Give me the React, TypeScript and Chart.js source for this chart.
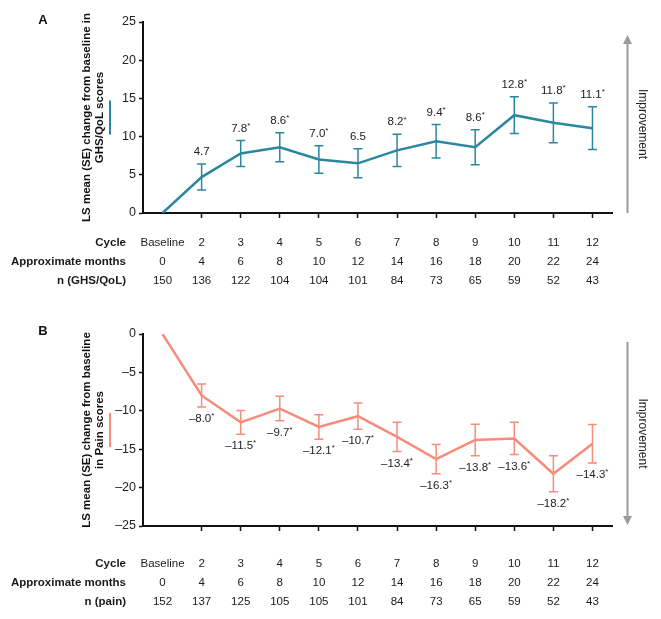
import React, { useEffect, useRef } from "react";
import { Chart, registerables } from "chart.js";
Chart.register(...registerables);

const cycles = ["Baseline", "2", "3", "4", "5", "6", "7", "8", "9", "10", "11", "12"];
const months = ["0", "4", "6", "8", "10", "12", "14", "16", "18", "20", "22", "24"];
const nGhs = [150, 136, 122, 104, 104, 101, 84, 73, 65, 59, 52, 43];
const nPain = [152, 137, 125, 105, 105, 101, 84, 73, 65, 59, 52, 43];

const ghsMean = [0, 4.7, 7.8, 8.6, 7.0, 6.5, 8.2, 9.4, 8.6, 12.8, 11.8, 11.1];
const ghsSE = [0, 1.7, 1.7, 1.9, 1.8, 1.9, 2.1, 2.2, 2.3, 2.4, 2.6, 2.8];
const ghsSig = [false, false, true, true, true, false, true, true, true, true, true, true];

const painMean = [0, -8.0, -11.5, -9.7, -12.1, -10.7, -13.4, -16.3, -13.8, -13.6, -18.2, -14.3];
const painSE = [0, 1.5, 1.55, 1.6, 1.6, 1.7, 1.9, 1.9, 2.05, 2.1, 2.35, 2.5];
const painSig = [false, true, true, true, true, true, true, true, true, true, true, true];

const FONT = "'Liberation Sans', Arial, Helvetica, sans-serif";
const TEAL = "#2b87a0";
const SALMON = "#f68c7b";

type PanelCfg = {
  letter: string;
  mean: number[];
  se: number[];
  sig: boolean[];
  color: string;
  yMin: number;
  yMax: number;
  title: string[];
  nLabel: string;
  n: number[];
  canvasH: number;
  areaTop: number;
  areaBottom: number;
  labelAbove: boolean;
  arrowUp: boolean;
  arrowFrom: number;
  arrowTo: number;
  tableY: number[];
  letterY: number;
};

function fmt(v: number) {
  return v.toFixed(1).replace("-", "\u2013");
}

function makePlugin(cfg: PanelCfg) {
  return {
    id: "panelDeco" + cfg.letter,
    afterDatasetsDraw(chart: any) {
      const ctx = chart.ctx;
      const xs = chart.scales.x;
      const ys = chart.scales.y;
      ctx.save();
      ctx.strokeStyle = cfg.color;
      ctx.lineWidth = 1.5;
      cfg.mean.forEach((m, i) => {
        const se = cfg.se[i];
        if (se <= 0) return;
        const px = xs.getPixelForValue(i);
        const t = ys.getPixelForValue(m + se);
        const b = ys.getPixelForValue(m - se);
        ctx.beginPath();
        ctx.moveTo(px, t);
        ctx.lineTo(px, b);
        ctx.moveTo(px - 4.5, t);
        ctx.lineTo(px + 4.5, t);
        ctx.moveTo(px - 4.5, b);
        ctx.lineTo(px + 4.5, b);
        ctx.stroke();
      });
      // value labels
      ctx.fillStyle = "#222";
      ctx.textBaseline = "middle";
      ctx.textAlign = "left";
      cfg.mean.forEach((m, i) => {
        if (i === 0) return;
        const px = xs.getPixelForValue(i);
        const se = cfg.se[i];
        const py = cfg.labelAbove
          ? ys.getPixelForValue(m + se) - 12
          : ys.getPixelForValue(m - se) + 12;
        const txt = fmt(m);
        ctx.font = `11.5px ${FONT}`;
        const w1 = ctx.measureText(txt).width;
        ctx.font = `8px ${FONT}`;
        const w2 = cfg.sig[i] ? ctx.measureText("*").width : 0;
        const x0 = px - (w1 + w2) / 2;
        ctx.font = `11.5px ${FONT}`;
        ctx.fillText(txt, x0, py);
        if (cfg.sig[i]) {
          ctx.font = `8px ${FONT}`;
          ctx.fillText("*", x0 + w1, py - 3);
        }
      });
      ctx.restore();
    },
    afterDraw(chart: any) {
      const ctx = chart.ctx;
      const xs = chart.scales.x;
      const area = chart.chartArea;
      ctx.save();
      // panel letter
      ctx.fillStyle = "#111";
      ctx.font = `bold 13px ${FONT}`;
      ctx.textAlign = "center";
      ctx.textBaseline = "middle";
      ctx.fillText(cfg.letter, 43, cfg.letterY);

      // y-axis title
      const cy = (area.top + area.bottom) / 2;
      ctx.save();
      ctx.translate(87, cy);
      ctx.rotate(-Math.PI / 2);
      ctx.font = `bold 11.5px ${FONT}`;
      ctx.fillText(cfg.title[0], 0, 0);
      ctx.restore();
      ctx.save();
      ctx.translate(100, cy);
      ctx.rotate(-Math.PI / 2);
      ctx.font = `bold 11.5px ${FONT}`;
      ctx.fillText(cfg.title[1], 0, 0);
      ctx.restore();
      ctx.strokeStyle = cfg.color;
      ctx.lineWidth = 2;
      ctx.beginPath();
      ctx.moveTo(110, cy - 17);
      ctx.lineTo(110, cy + 17);
      ctx.stroke();

      // improvement arrow
      const ax = 627.5;
      ctx.strokeStyle = "#9a9a9a";
      ctx.fillStyle = "#9a9a9a";
      ctx.lineWidth = 2;
      ctx.beginPath();
      ctx.moveTo(ax, cfg.arrowFrom);
      ctx.lineTo(ax, cfg.arrowUp ? cfg.arrowTo + 8 : cfg.arrowTo - 8);
      ctx.stroke();
      ctx.beginPath();
      if (cfg.arrowUp) {
        ctx.moveTo(ax, cfg.arrowTo);
        ctx.lineTo(ax - 4.5, cfg.arrowTo + 9);
        ctx.lineTo(ax + 4.5, cfg.arrowTo + 9);
      } else {
        ctx.moveTo(ax, cfg.arrowTo);
        ctx.lineTo(ax - 4.5, cfg.arrowTo - 9);
        ctx.lineTo(ax + 4.5, cfg.arrowTo - 9);
      }
      ctx.closePath();
      ctx.fill();
      ctx.save();
      ctx.translate(642, (cfg.arrowFrom + cfg.arrowTo) / 2);
      ctx.rotate(Math.PI / 2);
      ctx.fillStyle = "#222";
      ctx.font = `12px ${FONT}`;
      ctx.textAlign = "center";
      ctx.textBaseline = "middle";
      ctx.fillText("Improvement", 0, 0);
      ctx.restore();

      // table
      const rowLabels = ["Cycle", "Approximate months", cfg.nLabel];
      const rows = [cycles, months, cfg.n.map(String)];
      ctx.fillStyle = "#1a1a1a";
      ctx.textBaseline = "middle";
      rows.forEach((row, r) => {
        const y = cfg.tableY[r];
        ctx.font = `bold 11.5px ${FONT}`;
        ctx.textAlign = "right";
        ctx.fillText(rowLabels[r], 126, y);
        ctx.font = `11.5px ${FONT}`;
        ctx.textAlign = "center";
        row.forEach((v, i) => {
          ctx.fillText(v, xs.getPixelForValue(i), y);
        });
      });
      ctx.restore();
    },
  };
}

function Panel({ cfg }: { cfg: PanelCfg }) {
  const ref = useRef<HTMLCanvasElement>(null);
  useEffect(() => {
    if (!ref.current) return;
    const chart = new Chart(ref.current, {
      type: "line",
      data: {
        labels: cycles,
        datasets: [
          {
            data: cfg.mean,
            borderColor: cfg.color,
            borderWidth: 2.5,
            pointRadius: 0,
            tension: 0,
            fill: false,
          },
        ],
      },
      options: {
        animation: false,
        responsive: false,
        maintainAspectRatio: false,
        layout: {
          padding: {
            left: 103,
            right: 49,
            top: cfg.areaTop,
            bottom: cfg.canvasH - cfg.areaBottom - 10,
          },
        },
        plugins: { legend: { display: false }, tooltip: { enabled: false } },
        scales: {
          x: {
            type: "category",
            offset: true,
            grid: {
              drawOnChartArea: false,
              offset: false,
              tickLength: 5,
              tickWidth: 1.5,
              tickColor: (c: any) => (c.index === 0 ? "rgba(0,0,0,0)" : "#111"),
            },
            border: { color: "#111", width: 2 },
            ticks: { display: false },
            afterFit: (s: any) => {
              s.height = 10;
            },
          },
          y: {
            min: cfg.yMin,
            max: cfg.yMax,
            ticks: {
              stepSize: 5,
              color: "#222",
              padding: 3,
              font: { family: FONT, size: 12.5 },
              callback: (v: any) => String(v).replace("-", "\u2013"),
            },
            grid: {
              drawOnChartArea: false,
              tickLength: 4,
              tickWidth: 1.5,
              tickColor: "#111",
            },
            border: { color: "#111", width: 2 },
            afterFit: (s: any) => {
              s.width = 40;
            },
          },
        },
      },
      plugins: [makePlugin(cfg)],
    } as any);
    return () => chart.destroy();
  }, [cfg]);
  return <canvas ref={ref} width={661} height={cfg.canvasH} style={{ display: "block", width: 661, height: cfg.canvasH }} />;
}

const cfgA: PanelCfg = {
  letter: "A",
  mean: ghsMean,
  se: ghsSE,
  sig: ghsSig,
  color: TEAL,
  yMin: 0,
  yMax: 25,
  title: ["LS mean (SE) change from baseline in", "GHS/QoL scores"],
  nLabel: "n (GHS/QoL)",
  n: nGhs,
  canvasH: 300,
  areaTop: 22,
  areaBottom: 213,
  labelAbove: true,
  arrowUp: true,
  arrowFrom: 213,
  arrowTo: 35,
  tableY: [243, 262, 281],
  letterY: 20,
};

const cfgB: PanelCfg = {
  letter: "B",
  mean: painMean,
  se: painSE,
  sig: painSig,
  color: SALMON,
  yMin: -25,
  yMax: 0,
  title: ["LS mean (SE) change from baseline", "in Pain scores"],
  nLabel: "n (pain)",
  n: nPain,
  canvasH: 319,
  areaTop: 34,
  areaBottom: 226,
  labelAbove: false,
  arrowUp: false,
  arrowFrom: 42,
  arrowTo: 225,
  tableY: [264, 283, 302],
  letterY: 31,
};

export default function App() {
  return (
    <div style={{ position: "fixed", left: 0, top: 0, width: 661, height: 619, background: "#fff" }}>
      <Panel cfg={cfgA} />
      <Panel cfg={cfgB} />
    </div>
  );
}
